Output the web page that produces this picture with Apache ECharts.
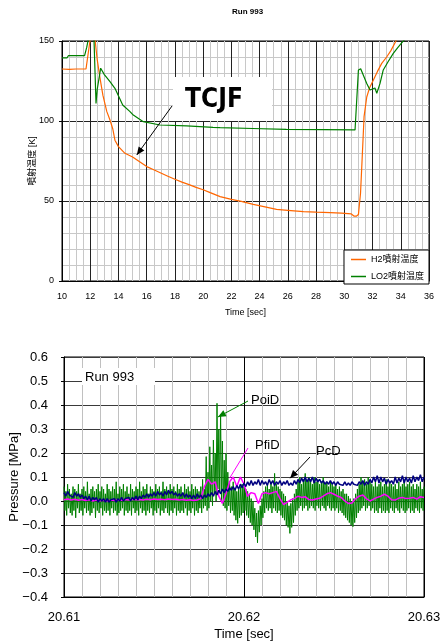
<!DOCTYPE html>
<html><head><meta charset="utf-8">
<script src="https://cdn.jsdelivr.net/npm/echarts@6/dist/echarts.min.js"></script>
<style>html,body{margin:0;padding:0;background:#fff}#c{width:442px;height:644px}</style>
</head><body><div id="c"></div>
<script>
const FONT = '"Liberation Sans", Arial, "Noto Sans CJK JP", sans-serif';

// ---- Top chart: injector temperatures ----
const h2Name = 'H2噴射温度';
const lo2Name = 'LO2噴射温度';
const h2Time = [10, 10.5, 11.0, 11.7, 11.98, 12.05, 12.25, 12.35, 12.5, 12.69, 12.9, 13.17, 13.4, 13.6, 13.75, 14.0, 14.46, 15.0, 15.5, 16.0, 16.5, 17.0, 17.5, 18.0, 18.5, 19.0, 19.5, 20.0, 20.5, 21.2, 22.0, 22.7, 23.55, 24.3, 25.2, 26.0, 27.1, 28.0, 29.0, 29.8, 30.5, 30.7, 30.76, 30.85, 31.0, 31.08, 31.15, 31.23, 31.4, 31.59, 31.8, 32.06, 32.35, 32.65, 33.0, 33.3, 33.66, 33.8];
const h2Temp = [132.5, 132.3, 132.5, 132.5, 150, 165, 165, 150, 138, 127, 116, 106, 100.6, 95, 88, 84, 79.8, 77.5, 74.5, 71.5, 69.5, 67.5, 65.5, 63.6, 61.8, 60.2, 58.5, 57, 55.2, 52.7, 51, 49.8, 47.9, 46.5, 44.8, 44.2, 43.3, 43.0, 42.7, 42.4, 41.9, 40.5, 39.6, 40.5, 41.5, 41.5, 55, 70, 102.7, 115, 121, 125.6, 131, 136, 140, 144, 150, 152];
const lo2Time = [10, 10.35, 10.45, 11.6, 11.75, 11.84, 11.95, 12.2, 12.27, 12.41, 12.5, 12.74, 13.0, 13.4, 13.75, 14.3, 14.8, 15.05, 15.76, 16.94, 18.83, 20.7, 21.2, 23.5, 25.9, 28.5, 30.76, 30.88, 31.0, 31.16, 31.59, 31.82, 32.17, 32.3, 32.53, 32.76, 33.1, 33.47, 33.8, 34.14, 34.3];
const lo2Temp = [139.4, 139.4, 140.8, 140.8, 146, 150, 165, 165, 150, 111, 120, 133, 129, 124.6, 120.4, 110, 106, 103.7, 99.6, 97.5, 96.9, 96, 95.8, 95.3, 94.8, 94.6, 94.4, 94.8, 131.9, 132.6, 123.5, 119.4, 120.6, 117.3, 123.5, 131.9, 137, 142.3, 146, 149.6, 151];

// ---- Bottom chart: pressures ----
const pStart = 20.61, pStepOi = 0.00005, pStepC = 0.0001, pStepPf = 0.0002;
const poiD = [
0.06,-0.04,0.04,-0.06,0.07,-0.03,0.05,-0.05,0.03,-0.06,0.06,-0.04,0.05,-0.07,0.04,-0.03,0.07,-0.05,0.03,-0.04,
0.05,-0.06,0.06,-0.03,0.04,-0.05,0.08,-0.04,0.03,-0.06,0.05,-0.05,0.06,-0.03,0.04,-0.07,0.05,-0.04,0.07,-0.05,
0.04,-0.03,0.06,-0.06,0.05,-0.04,0.03,-0.05,0.07,-0.04,0.05,-0.06,0.04,-0.03,0.06,-0.05,0.05,-0.04,0.08,-0.06,
0.03,-0.05,0.06,-0.04,0.05,-0.03,0.07,-0.06,0.04,-0.04,0.06,-0.05,0.03,-0.04,0.07,-0.06,0.05,-0.03,0.04,-0.05,
0.06,-0.04,0.05,-0.06,0.08,-0.03,0.04,-0.05,0.06,-0.04,0.05,-0.06,0.07,-0.04,0.03,-0.05,0.06,-0.03,0.05,-0.06,
0.04,-0.04,0.07,-0.05,0.05,-0.03,0.06,-0.06,0.04,-0.04,0.08,-0.05,0.05,-0.03,0.06,-0.05,0.04,-0.06,0.07,-0.04,
0.05,-0.05,0.06,-0.03,0.04,-0.06,0.07,-0.04,0.05,-0.05,0.06,-0.04,0.03,-0.05,0.07,-0.03,0.05,-0.06,0.06,-0.04,
0.04,-0.05,0.07,-0.03,0.05,-0.06,0.06,-0.04,0.05,-0.05,0.04,-0.03,0.06,-0.05,
0.09,-0.03,0.05,-0.02,0.185,-0.04,0.12,-0.03,0.226,0.0,0.15,-0.02,0.254,0.03,0.2,0.0,0.407,0.05,0.3,0.04,
0.36,0.0,0.25,-0.02,0.17,-0.03,0.2,-0.04,0.12,-0.02,0.08,-0.05,0.06,-0.04,0.08,-0.06,0.05,-0.08,0.04,-0.093,
0.05,-0.07,0.06,-0.06,0.07,-0.05,0.06,
-0.04,0.05,-0.06,0.04,-0.07,0.03,-0.09,0.01,-0.1,0.0,-0.12,-0.03,-0.15,-0.05,-0.174,-0.04,-0.13,-0.02,-0.1,0.01,
-0.07,0.04,-0.05,0.06,-0.03,0.07,-0.04,0.05,-0.03,0.08,-0.05,0.06,-0.03,0.115,-0.04,0.07,-0.05,0.06,-0.04,0.05,
-0.06,0.04,-0.07,0.03,-0.08,0.02,-0.1,0.0,-0.11,-0.02,-0.135,-0.01,-0.11,0.01,-0.09,0.03,-0.06,0.05,-0.04,0.08,
-0.03,0.1,-0.02,0.07,-0.04,0.09,-0.03,0.115,-0.02,0.08,-0.04,0.1,-0.03,0.09,-0.02,0.07,-0.03,0.1,-0.04,0.08,
-0.02,0.09,-0.03,0.07,-0.04,0.08,-0.02,0.1,-0.03,0.07,-0.04,0.08,-0.02,0.06,-0.03,0.08,-0.04,0.07,-0.03,0.06,
-0.04,0.07,-0.03,0.05,-0.05,0.06,-0.04,0.04,-0.05,0.05,-0.06,0.03,-0.07,0.03,-0.08,0.02,-0.09,0.01,-0.1,0.0,
-0.107,0.01,-0.09,0.03,-0.07,0.05,-0.05,0.07,-0.04,0.1,-0.03,0.08,-0.02,0.09,-0.04,0.07,-0.03,0.1,-0.02,0.08,
-0.04,0.07,-0.03,0.06,-0.05,0.08,-0.04,0.06,-0.05,0.07,-0.03,0.08,-0.05,0.06,-0.04,0.07,-0.05,0.09,-0.04,0.06,
-0.05,0.08,-0.03,0.07,-0.04,0.06,-0.05,0.07,-0.03,0.05,-0.04,0.08,-0.05,0.06,-0.03,0.07,-0.04,0.09,-0.05,0.06,
-0.04,0.07,-0.03,0.08,-0.05,0.06,-0.04,0.07,-0.05,0.05,-0.03,0.07,-0.04,0.06,-0.05,0.08,-0.03,0.05,-0.04,0.06];
const pcD = [
0.035,0.02,0.04,0.025,0.03,0.015,0.035,0.02,0.03,0.015,
0.025,0.01,0.02,0.005,0.02,0.0,0.015,0.005,0.015,-0.005,
0.01,0.0,0.01,-0.005,0.01,-0.005,0.005,0.0,0.01,-0.005,
0.01,0.0,0.015,0.0,0.01,0.005,0.015,0.0,0.015,0.005,
0.02,0.005,0.02,0.01,0.025,0.015,0.03,0.015,0.03,0.02,
0.035,0.02,0.04,0.025,0.035,0.02,0.04,0.025,0.045,0.03,
0.04,0.025,0.035,0.02,0.03,0.02,0.035,0.015,0.03,0.015,
0.025,0.01,0.025,0.01,0.03,0.015,0.025,0.01,0.025,0.015,
0.03,0.02,0.035,0.02,0.04,0.025,0.045,0.03,0.05,0.035,
0.05,0.04,0.055,0.045,0.06,0.045,0.065,0.05,0.07,0.055,
0.075,0.06,0.08,0.065,0.085,0.065,0.08,0.07,0.09,0.065,
0.085,0.07,0.08,0.065,0.09,0.07,0.085,0.065,0.08,0.07,
0.085,0.065,0.08,0.07,0.085,0.065,0.075,0.065,0.085,0.07,
0.09,0.075,0.095,0.08,0.1,0.08,0.095,0.08,0.1,0.075,
0.095,0.08,0.09,0.075,0.085,0.07,0.08,0.07,0.085,0.07,
0.08,0.065,0.08,0.07,0.075,0.065,0.08,0.065,0.075,0.065,
0.08,0.07,0.075,0.065,0.08,0.07,0.085,0.065,0.08,0.07,
0.09,0.075,0.1,0.08,0.105,0.075,0.1,0.08,0.095,0.07,
0.09,0.075,0.085,0.07,0.1,0.075,0.095,0.08,0.105,0.075,
0.1,0.08,0.095,0.075,0.105,0.08,0.1,0.085,0.11,0.08,
0.1];
const pfiD = [
0.005,0.008,0.004,0.007,0.003,0.006,0.002,0.005,0.0,0.004,
0.001,0.003,0.0,0.004,0.002,0.005,0.003,0.006,0.004,0.007,
0.005,0.006,0.004,0.007,0.005,0.008,0.006,0.007,0.005,0.008,
0.006,0.007,0.004,0.006,0.003,0.005,0.002,0.004,
0.01,0.06,0.09,0.07,0.08,0.02,-0.01,0.03,0.08,0.1,
0.06,0.1,0.07,0.02,0.035,0.03,-0.01,0.03,0.035,0.03,
0.035,0.04,0.01,-0.015,-0.005,0.005,0.01,0.02,0.015,0.018,
0.006,0.004,0.008,0.011,0.02,0.03,0.035,0.028,0.02,0.015,
0.0,-0.01,-0.008,0.01,0.02,0.025,0.01,0.0,0.008,0.015,
0.02,0.028,0.02,0.005,0.004,0.012,0.015,0.01,0.012,0.015,
0.008,0.018,0.015];

const zip = (xs, ys) => ys.map((y, i) => [xs[i], y]);
const seq = (arr, start, step) => arr.map((v, i) => [+(start + i * step).toFixed(6), v]);
const minus = s => s.replace('-', '\u2212');

const chart = echarts.init(document.getElementById('c'), null, {renderer: 'canvas'});

const option = {
  animation: false,
  backgroundColor: '#fff',
  textStyle: {fontFamily: FONT, color: '#000'},
  title: {
    text: 'Run 993', left: 232, top: 8, padding: 0,
    textStyle: {fontSize: 8, fontWeight: 'bold', color: '#000', fontFamily: FONT}
  },
  legend: {
    data: [h2Name, lo2Name], orient: 'vertical', right: 13, top: 250,
    icon: 'rect',
    backgroundColor: '#fff', borderColor: '#000', borderWidth: 1, borderRadius: 0,
    padding: [4, 5, 2, 7], itemGap: 6, itemWidth: 15, itemHeight: 1.5,
    textStyle: {fontSize: 9, color: '#000', fontFamily: FONT, lineHeight: 11},
    z: 10
  },
  grid: [
    {left: 62, top: 41, width: 367, height: 240, show: true, borderColor: '#000', borderWidth: 1,
     backgroundColor: 'transparent', containLabel: false, outerBoundsMode: 'none'},
    {left: 64, top: 357, width: 360, height: 240, show: true, borderColor: '#000', borderWidth: 1,
     backgroundColor: 'transparent', containLabel: false, outerBoundsMode: 'none'}
  ],
  xAxis: [
    {
      gridIndex: 0, type: 'value', min: 10, max: 36, interval: 2,
      axisLine: {show: true, onZero: false, lineStyle: {color: '#000'}},
      axisTick: {show: false},
      axisLabel: {fontSize: 9, color: '#000', margin: 11, fontFamily: FONT},
      splitLine: {show: true, lineStyle: {color: '#222', width: 1}},
      minorTick: {show: false, splitNumber: 4},
      minorSplitLine: {show: true, lineStyle: {color: '#c8c8c8', width: 1}},
      name: 'Time [sec]', nameLocation: 'middle', nameGap: 27, nameMoveOverlap: false,
      nameTextStyle: {fontSize: 9, color: '#000', fontFamily: FONT}
    },
    {
      gridIndex: 1, type: 'value', min: 20.61, max: 20.63, interval: 0.01,
      axisLine: {show: true, onZero: false, lineStyle: {color: '#000'}},
      axisTick: {show: false},
      axisLabel: {fontSize: 13, color: '#000', margin: 14, fontFamily: FONT, formatter: v => v.toFixed(2)},
      splitLine: {show: true, lineStyle: {color: '#000', width: 1}},
      minorTick: {show: false, splitNumber: 10},
      minorSplitLine: {show: true, lineStyle: {color: '#c0c0c0', width: 1}},
      name: 'Time [sec]', nameLocation: 'middle', nameGap: 31, nameMoveOverlap: false,
      nameTextStyle: {fontSize: 13, color: '#000', fontFamily: FONT}
    }
  ],
  yAxis: [
    {
      gridIndex: 0, type: 'value', min: 0, max: 150, interval: 50,
      axisLine: {show: true, onZero: false, lineStyle: {color: '#000'}},
      axisTick: {show: true, length: 3, lineStyle: {color: '#000'}},
      axisLabel: {fontSize: 9, color: '#000', margin: 8, fontFamily: FONT},
      splitLine: {show: true, lineStyle: {color: '#222', width: 1}},
      minorTick: {show: false, splitNumber: 5},
      minorSplitLine: {show: true, lineStyle: {color: '#c8c8c8', width: 1}},
      name: '噴射温度 [K]', nameLocation: 'middle', nameGap: 25, nameMoveOverlap: false,
      nameTextStyle: {fontSize: 9, color: '#000', fontFamily: FONT}
    },
    {
      gridIndex: 1, type: 'value', min: -0.4, max: 0.6, interval: 0.1,
      axisLine: {show: true, onZero: false, lineStyle: {color: '#000'}},
      axisTick: {show: true, length: 3, lineStyle: {color: '#000'}},
      axisLabel: {fontSize: 13, color: '#000', margin: 16, fontFamily: FONT, formatter: v => minus(v.toFixed(1))},
      splitLine: {show: true, lineStyle: {color: '#3a3a3a', width: 1}},
      name: 'Pressure [MPa]', nameLocation: 'middle', nameGap: 43, nameMoveOverlap: false,
      nameTextStyle: {fontSize: 13, color: '#000', fontFamily: FONT}
    }
  ],
  series: [
    {name: h2Name, type: 'line', xAxisIndex: 0, yAxisIndex: 0, data: zip(h2Time, h2Temp),
     symbol: 'none', lineStyle: {color: '#FF6600', width: 1.2}, itemStyle: {color: '#FF6600'}, z: 3},
    {name: lo2Name, type: 'line', xAxisIndex: 0, yAxisIndex: 0, data: zip(lo2Time, lo2Temp),
     symbol: 'none', lineStyle: {color: '#008000', width: 1.2}, itemStyle: {color: '#008000'}, z: 3},
    {name: 'PoiD', type: 'line', xAxisIndex: 1, yAxisIndex: 1, data: seq(poiD, pStart, pStepOi),
     symbol: 'none', lineStyle: {color: '#008000', width: 1}, itemStyle: {color: '#008000'}, z: 3},
    {name: 'PfiD', type: 'line', xAxisIndex: 1, yAxisIndex: 1, data: seq(pfiD, pStart, pStepPf),
     symbol: 'none', lineStyle: {color: '#FF00FF', width: 1.5}, itemStyle: {color: '#FF00FF'}, z: 4},
    {name: 'PcD', type: 'line', xAxisIndex: 1, yAxisIndex: 1, data: seq(pcD, pStart, pStepC),
     symbol: 'none', lineStyle: {color: '#000080', width: 1.5}, itemStyle: {color: '#000080'}, z: 5}
  ]
};
chart.setOption(option);

// ---- annotations (tips anchored to data coordinates) ----
function px(grid, pt) { return chart.convertToPixel({gridIndex: grid}, pt); }
function arrow(x1, y1, x2, y2, color, head) {
  const els = [{type: 'line', shape: {x1, y1, x2, y2}, style: {stroke: color, lineWidth: 1}, z: 20}];
  if (head) {
    const ang = Math.atan2(y2 - y1, x2 - x1), L = 8, W = 3.5;
    const bx = x2 - L * Math.cos(ang), by = y2 - L * Math.sin(ang);
    const nx = -Math.sin(ang) * W, ny = Math.cos(ang) * W;
    els.push({type: 'polygon', shape: {points: [[x2, y2], [bx + nx, by + ny], [bx - nx, by - ny]]}, style: {fill: color}, z: 20});
  }
  return els;
}
const tcjfTip = px(0, [15.3, 78.8]);
const poiTip = px(1, [20.61855, 0.35]);
const pfiTip = px(1, [20.6192, 0.095]);
const pcTip = px(1, [20.62256, 0.095]);
const g = [];
g.push({type: 'rect', shape: {x: 173, y: 77, width: 99, height: 44}, style: {fill: '#fff'}, z: 15});
g.push({type: 'text', x: 214, y: 100, style: {text: 'TCJF', fontSize: 26, fontWeight: 'bold', fontFamily: '"DejaVu Sans Condensed", "DejaVu Sans", sans-serif', fill: '#000', align: 'center', verticalAlign: 'middle'}, z: 16});
g.push(...arrow(172, 106, tcjfTip[0], tcjfTip[1], '#000', true));
g.push({type: 'rect', shape: {x: 82, y: 368, width: 73, height: 17}, style: {fill: '#fff'}, z: 15});
g.push({type: 'text', x: 85, y: 377, style: {text: 'Run 993', fontSize: 13, fontFamily: FONT, fill: '#000', align: 'left', verticalAlign: 'middle'}, z: 16});
g.push({type: 'text', x: 251, y: 400, style: {text: 'PoiD', fontSize: 13, fontFamily: FONT, fill: '#000', align: 'left', verticalAlign: 'middle'}, z: 16});
g.push(...arrow(248, 401, poiTip[0], poiTip[1], '#008000', true));
g.push({type: 'text', x: 255, y: 445, style: {text: 'PfiD', fontSize: 13, fontFamily: FONT, fill: '#000', align: 'left', verticalAlign: 'middle'}, z: 16});
g.push(...arrow(248, 448, pfiTip[0], pfiTip[1], '#FF00FF', false));
g.push({type: 'text', x: 316, y: 451, style: {text: 'PcD', fontSize: 13, fontFamily: FONT, fill: '#000', align: 'left', verticalAlign: 'middle'}, z: 16});
g.push(...arrow(310, 457, pcTip[0], pcTip[1], '#000', true));
chart.setOption({graphic: {elements: g}});
</script>
</body></html>
